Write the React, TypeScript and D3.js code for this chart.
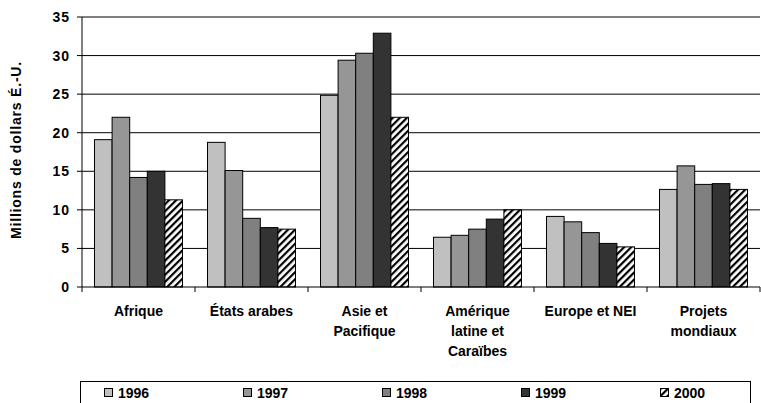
import React from 'react';
import * as d3 from 'd3';

const categories = [
  ['Afrique'],
  ['États arabes'],
  ['Asie et', 'Pacifique'],
  ['Amérique', 'latine et', 'Caraïbes'],
  ['Europe et NEI'],
  ['Projets', 'mondiaux'],
];
const years = ['1996', '1997', '1998', '1999', '2000'];
const values1996 = [19.1, 18.75, 24.85, 6.45, 9.15, 12.65];
const values1997 = [22.0, 15.1, 29.4, 6.7, 8.45, 15.7];
const values1998 = [14.2, 8.9, 30.3, 7.5, 7.05, 13.3];
const values1999 = [15.0, 7.7, 32.9, 8.8, 5.65, 13.4];
const values2000 = [11.3, 7.5, 22.0, 10.0, 5.2, 12.65];
const yTicks = [0, 5, 10, 15, 20, 25, 30, 35];

const series = [values1996, values1997, values1998, values1999, values2000];
const fills = ['#c0c0c0', '#969696', '#808080', '#333333', 'url(#hatch)'];

const W = 761;
const H = 403;
const left = 82;
const right = 760;
const top = 17;
const bottom = 287;
const font = 'Liberation Sans, Arial, sans-serif';

export default function App() {
  const x = d3.scaleBand<number>()
    .domain(d3.range(categories.length))
    .range([left, right]);
  const inner = d3.scaleBand<number>()
    .domain(d3.range(years.length))
    .range([0, x.bandwidth()])
    .paddingOuter(0.71)
    .paddingInner(0);
  const y = d3.scaleLinear().domain([0, 35]).range([bottom, top]);

  return (
    <svg width={W} height={H} style={{ position: 'absolute', left: 0, top: 0 }}
      fontFamily={font} fontWeight="bold">
      <defs>
        <pattern id="hatch" width="5" height="5" patternUnits="userSpaceOnUse"
          patternTransform="rotate(45)">
          <rect width="5" height="5" fill="#fff" />
          <rect width="2.2" height="5" fill="#000" />
        </pattern>
      </defs>

      {/* gridlines */}
      {yTicks.slice(1).map(t => (
        <line key={t} x1={left} x2={right} y1={y(t)} y2={y(t)} stroke="#000" strokeWidth={1} />
      ))}

      {/* bars */}
      {series.map((vals, s) => vals.map((v, c) => (
        <rect key={`${s}-${c}`}
          x={x(c)! + inner(s)!}
          y={y(v)}
          width={inner.bandwidth()}
          height={bottom - y(v)}
          fill={fills[s]}
          stroke="#000" strokeWidth={1} />
      )))}

      {/* y axis */}
      <line x1={left} x2={left} y1={top} y2={bottom} stroke="#000" />
      {yTicks.map(t => (
        <g key={t}>
          <line x1={left - 5} x2={left} y1={y(t)} y2={y(t)} stroke="#000" />
          <text x={70} y={y(t)} dy="0.36em" textAnchor="end" fontSize={14} letterSpacing={1}>{t}</text>
        </g>
      ))}
      <text transform={`translate(21,150) rotate(-90)`}
        textAnchor="middle" fontSize={14} letterSpacing={0.8}>Millions de dollars É.-U.</text>

      {/* x axis */}
      <line x1={left} x2={right} y1={bottom} y2={bottom} stroke="#000" />
      {d3.range(categories.length + 1).map(i => {
        const xx = left + i * x.step();
        return <line key={i} x1={xx} x2={xx} y1={bottom} y2={bottom + 5} stroke="#000" />;
      })}
      {categories.map((lines, c) => (
        <text key={c} x={x(c)! + x.bandwidth() / 2} textAnchor="middle" fontSize={14}>
          {lines.map((l, i) => (
            <tspan key={i} x={x(c)! + x.bandwidth() / 2} y={316 + i * 20}>{l}</tspan>
          ))}
        </text>
      ))}

      {/* legend */}
      <rect x={80.5} y={381.5} width={670} height={30} fill="#fff" stroke="#000" />
      {years.map((yr, s) => (
        <g key={yr} transform={`translate(${104 + s * 139},388)`}>
          <rect x={0.5} y={0.5} width={8} height={8} fill={fills[s]} stroke="#000" />
          <text x={14} y={9.5} fontSize={14}>{yr}</text>
        </g>
      ))}
    </svg>
  );
}
